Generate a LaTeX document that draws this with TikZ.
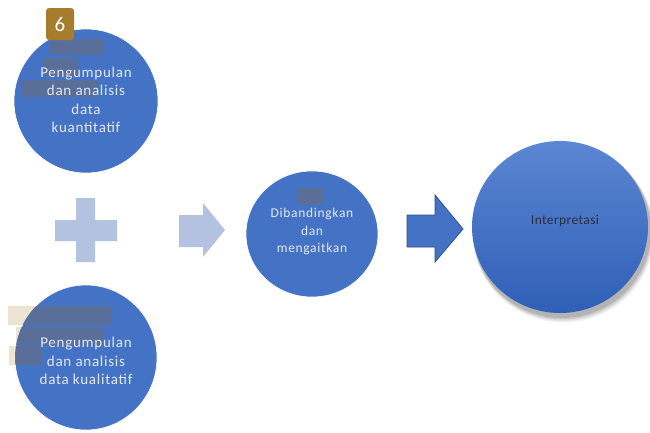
\documentclass[tikz,border=0pt]{standalone}
\usepackage{fontspec}
\setmainfont{Carlito}
\newfontfamily\spaced[LetterSpace=5]{Carlito}
\newfontfamily\spacedb[LetterSpace=3]{Carlito}
\usetikzlibrary{shapes.geometric}
\definecolor{circblue}{HTML}{4472C4}
\definecolor{lightblue}{HTML}{B4C2E1}
\definecolor{arrowline}{HTML}{2F528F}
\definecolor{txtlight}{HTML}{E4E8F0}
\definecolor{txtdark}{HTML}{2A2F3F}
\definecolor{overgray}{HTML}{5B6F96}
\definecolor{tan}{HTML}{ECE3D0}
\definecolor{badge}{HTML}{A67D2C}
\definecolor{gradtop}{HTML}{5B86D2}
\definecolor{gradbot}{HTML}{2F5FB6}
\tikzset{
  bluecirc/.style={ellipse, fill=circblue, draw=white, line width=0.6pt, inner sep=0pt},
  circtext/.style={text=txtlight, align=center, font=\spaced\fontsize{15}{18.5}\selectfont},
  midtext/.style={text=txtlight, align=center, font=\spaced\fontsize{13.5}{17.5}\selectfont},
  overlay/.style={fill=overgray, opacity=0.92},
  tanbox/.style={fill=tan},
  lightshape/.style={fill=lightblue},
  darkarrow/.style={fill=circblue, draw=arrowline, line width=0.8pt, line join=miter}
}
\begin{document}
\begin{tikzpicture}[x=1pt, y=-1pt]
\useasboundingbox (0,0) rectangle (650,432);
\fill[white] (0,0) rectangle (650,432);

% tan boxes behind bottom circle
\fill[tanbox] (8,306) rectangle (112,325);
\fill[tanbox] (16,327) rectangle (103,345);
\fill[tanbox] (9,346) rectangle (42,365);

% circles
\node[bluecirc, minimum width=144pt, minimum height=144pt] (quant) at (86,101) {};
\node[bluecirc, minimum width=142pt, minimum height=145pt] (qual) at (86,357.5) {};
\node[bluecirc, minimum width=132pt, minimum height=126pt] (comp) at (312,234) {};

% interpretation shadow + ellipse
\foreach \o/\a in {5/0.05,4/0.07,3/0.09,2/0.11}{
  \fill[black, opacity=\a] (561+0.5*\o,229+\o) ellipse [x radius=88+0.5*\o, y radius=86+0.5*\o];
}
\node[ellipse, minimum width=176pt, minimum height=172pt, inner sep=0pt,
      top color=gradtop, bottom color=gradbot] (interp) at (560,227) {};

% overlays on top circle
\fill[overlay] (49,39) rectangle (103,55);
\fill[overlay] (43,58) rectangle (78,77);
\fill[overlay] (22,80) rectangle (98,97);
% overlays on bottom circle, clipped
\begin{scope}
  \clip (86,357.5) ellipse [x radius=71, y radius=72.5];
  \fill[overlay] (8,306) rectangle (112,325);
  \fill[overlay] (16,327) rectangle (103,345);
  \fill[overlay] (9,346) rectangle (42,365);
\end{scope}
% overlay on middle circle
\fill[overlay] (298,188) rectangle (324,205);

% texts
\node[circtext] (tquant) at (86,100) {Pengumpulan\\dan analisis\\data\\kuantitatif};
\node[circtext] (tqual) at (86,361) {Pengumpulan\\dan analisis\\data kualitatif};
\node[midtext] (tcomp) at (312,231.5) {Dibandingkan\\dan\\mengaitkan};
\node[text=txtdark, font=\spacedb\fontsize{13.5}{16}\selectfont] (tinterp) at (565,221) {Interpretasi};

% badge
\node[fill=badge, rounded corners=3pt, minimum width=28pt, minimum height=32pt, inner sep=0pt,
      text=white, font=\fontsize{21}{22}\selectfont] (badge6) at (60,24) {6};

% plus sign
\fill[lightshape] (76,198) -- (95,198) -- (95,220) -- (117,220) -- (117,241) -- (95,241)
  -- (95,262) -- (76,262) -- (76,241) -- (55,241) -- (55,220) -- (76,220) -- cycle;

% light arrow
\fill[lightshape] (179,215) -- (203,215) -- (203,203) -- (225,230) -- (203,257) -- (203,247) -- (179,247) -- cycle;

% dark arrow
\draw[darkarrow] (407,215) -- (435,215) -- (435,195) -- (463,229) -- (435,262) -- (435,247) -- (407,247) -- cycle;
\end{tikzpicture}
\end{document}
